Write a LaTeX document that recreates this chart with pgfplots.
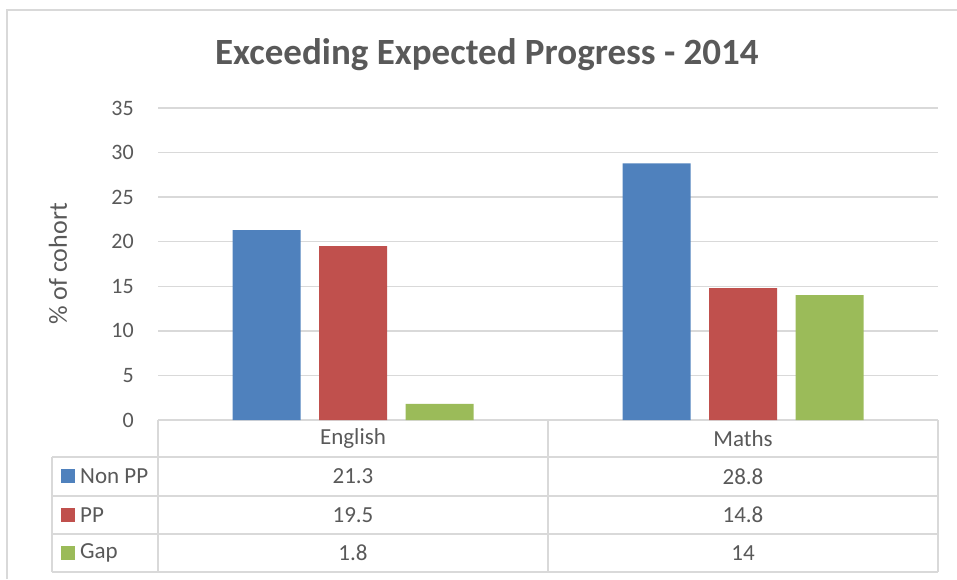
\documentclass[border=0pt]{standalone}
\usepackage{pgfplots}
\pgfplotsset{compat=1.18}
\usepackage{pgfplotstable}
\usepackage{fontspec}
\setmainfont{Carlito}
\definecolor{txt}{HTML}{595959}
\definecolor{gridc}{HTML}{D9D9D9}
\definecolor{cblue}{HTML}{4F81BD}
\definecolor{cred}{HTML}{C0504D}
\definecolor{cgreen}{HTML}{9BBB59}
\pgfplotstableread{
x nonpp pp gap
0 21.3 19.5 1.8
1 28.8 14.8 14
}\data
\newcommand{\cell}[2]{\pgfplotstablegetelem{#1}{#2}\of\data\pgfplotsretval}
\begin{document}
\begin{tikzpicture}
\useasboundingbox (0pt,0pt) rectangle (957pt,579pt);
\draw[gridc, line width=1.5pt] (7pt,0pt) -- (7pt,569pt) -- (957pt,569pt);
\begin{axis}[
  at={(158pt,159pt)}, anchor=south west,
  scale only axis, width=780pt, height=312pt,
  xmin=-0.5, xmax=1.5, ymin=0, ymax=35,
  ytick={0,5,...,35}, xtick=\empty,
  axis line style={draw=none},
  major tick length=0pt,
  ymajorgrids, grid style={gridc, line width=1.5pt},
  /pgf/number format/assume math mode=true,
  yticklabel style={font=\fontsize{22}{26}\selectfont, text=txt, inner sep=0pt, anchor=east, xshift=-24pt},
  ybar=18.5pt, bar width=68pt,
  title={\bfseries Exceeding Expected Progress - 2014},
  title style={font=\fontsize{37}{44}\selectfont, text=txt, at={(axis description cs:0.4218,1.1506)}, anchor=center},
  ylabel={\% of cohort},
  ylabel style={font=\fontsize{26}{30}\selectfont, text=txt, at={(axis description cs:-0.1282,0.5)}, anchor=center},
]
\addplot[fill=cblue, draw=none] table[x=x, y=nonpp] {\data};
\addplot[fill=cred, draw=none] table[x=x, y=pp] {\data};
\addplot[fill=cgreen, draw=none] table[x=x, y=gap] {\data};
\end{axis}
% data table
\begin{scope}[x=1pt, y=1pt]
\begin{scope}[gridc, line width=1.5pt]
\draw (52,122) -- (938,122);
\draw (52,83) -- (938,83);
\draw (52,45) -- (938,45);
\draw (52,7) -- (938,7);
\draw (52,122) -- (52,7);
\draw (158,159) -- (158,7);
\draw (548,159) -- (548,7);
\draw (938,159) -- (938,7);
\end{scope}
\begin{scope}[every node/.style={font=\fontsize{23}{27}\selectfont, text=txt, inner sep=0pt}]
\node at (353,140.5) {English};
\node at (743,140.5) {Maths};
\node at (353,102.5) {\cell{0}{nonpp}};
\node at (743,102.5) {\cell{1}{nonpp}};
\node at (353,64) {\cell{0}{pp}};
\node at (743,64) {\cell{1}{pp}};
\node at (353,26) {\cell{0}{gap}};
\node at (743,26) {\cell{1}{gap}};
\fill[cblue] (61,96) rectangle (75,110);
\fill[cred] (61,57) rectangle (75,71);
\fill[cgreen] (61,19) rectangle (75,33);
\node[anchor=west] at (80,102.5) {Non PP};
\node[anchor=west] at (80,64) {PP};
\node[anchor=west] at (80,26) {Gap};
\end{scope}
\end{scope}
\end{tikzpicture}
\end{document}
